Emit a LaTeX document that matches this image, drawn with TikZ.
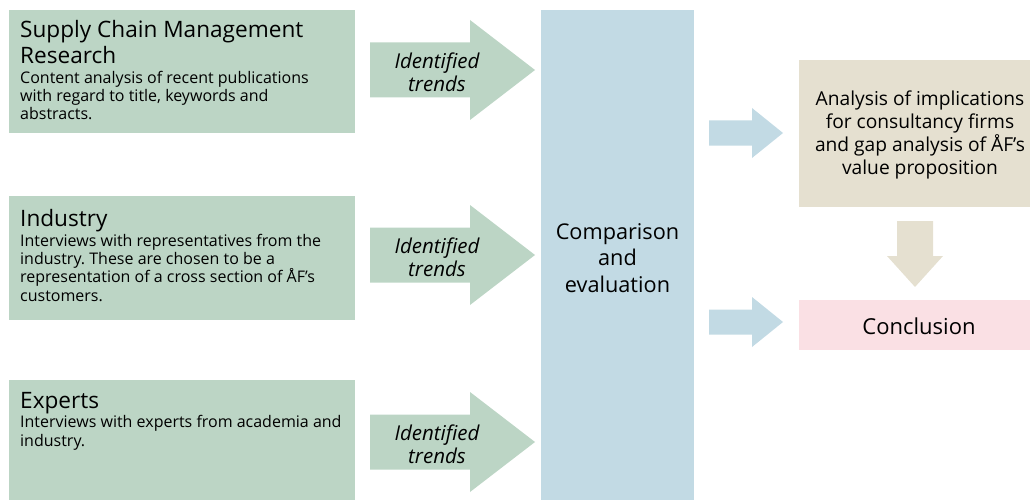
\documentclass[tikz,border=0pt]{standalone}
\usepackage{fontspec}
\setmainfont{Open Sans}
\frenchspacing
\definecolor{grn}{RGB}{188,213,197}
\definecolor{blu}{RGB}{194,218,228}
\definecolor{bei}{RGB}{229,224,208}
\definecolor{pnk}{RGB}{250,224,228}
\tikzset{
  box/.style={anchor=north west, inner sep=0pt, outer sep=0pt},
  srcbox/.style={box, fill=grn, minimum width=346pt},
  ttl/.style={anchor=base west, inner sep=0pt, align=left, font=\fontsize{22.6}{26}\selectfont},
  srctext/.style={anchor=base west, inner sep=0pt, align=left, font=\fontsize{16}{18.3}\selectfont},
  trend/.style={align=center, inner sep=0pt, font=\fontsize{20.5}{23}\selectfont\itshape},
  grnarrow/.style={fill=grn},
  bluarrow/.style={fill=blu},
  beiarrow/.style={fill=bei},
}
\begin{document}
\begin{tikzpicture}[x=1pt,y=-1pt]
\useasboundingbox (0,0) rectangle (1030,500);
% source boxes
\node[srcbox, minimum height=123pt] (scm) at (9,10) {};
\node[srcbox, minimum height=124pt] (ind) at (9,196) {};
\node[srcbox, minimum height=120pt] (exp) at (9,380) {};
\node[ttl] (scmh) at (20,64) {Supply Chain Management\\Research};
\node[srctext] (scmt) at (20,120) {Content analysis of recent publications\\with regard to title, keywords and\\abstracts.};
\node[ttl] (indh) at (20,226) {Industry};
\node[srctext] (indt) at (20,301) {Interviews with representatives from the\\industry. These are chosen to be a\\representation of a cross section of ÅF’s\\customers.};
\node[ttl] (exph) at (20,408) {Experts};
\node[srctext] (expt) at (20,446) {Interviews with experts from academia and\\industry.};
% comparison column
\node[box, fill=blu, minimum width=153pt, minimum height=490pt] (cmp) at (541,10) {};
\node[align=center, inner sep=0pt, font=\fontsize{21.7}{26.5}\selectfont] (cmpt) at (617.5,258) {Comparison\\and\\evaluation};
% green arrows
\foreach \cy/\nm in {70/a1,255/a2,442/a3}{
  \fill[grnarrow, shift={(370,\cy)}] (0,-27.5) -- (100,-27.5) -- (100,-50) -- (165,0) -- (100,50) -- (100,27.5) -- (0,27.5) -- cycle;
  \node[trend] (\nm) at (437,\cy+2) {Identified\\trends};
}
% right boxes
\node[box, fill=bei, minimum width=231pt, minimum height=147pt] (ana) at (799,60) {};
\node[align=center, inner sep=0pt, font=\fontsize{19.2}{23}\selectfont] (anat) at (920,135) {Analysis of implications\\for consultancy firms\\and gap analysis of ÅF’s\\value proposition};
\node[box, fill=pnk, minimum width=231pt, minimum height=50pt] (con) at (799,300) {};
\node[inner sep=0pt, font=\fontsize{22}{24}\selectfont] (cont) at (919,326) {Conclusion};
% blue arrows
\foreach \cy in {133,322}{
  \fill[bluarrow, shift={(709,\cy)}] (0,-12.5) -- (43,-12.5) -- (43,-25) -- (74,0) -- (43,25) -- (43,12.5) -- (0,12.5) -- cycle;
}
% down arrow
\fill[beiarrow, shift={(915,221)}] (-18,0) -- (18,0) -- (18,35) -- (28,35) -- (0,66) -- (-28,35) -- (-18,35) -- cycle;
\end{tikzpicture}
\end{document}
